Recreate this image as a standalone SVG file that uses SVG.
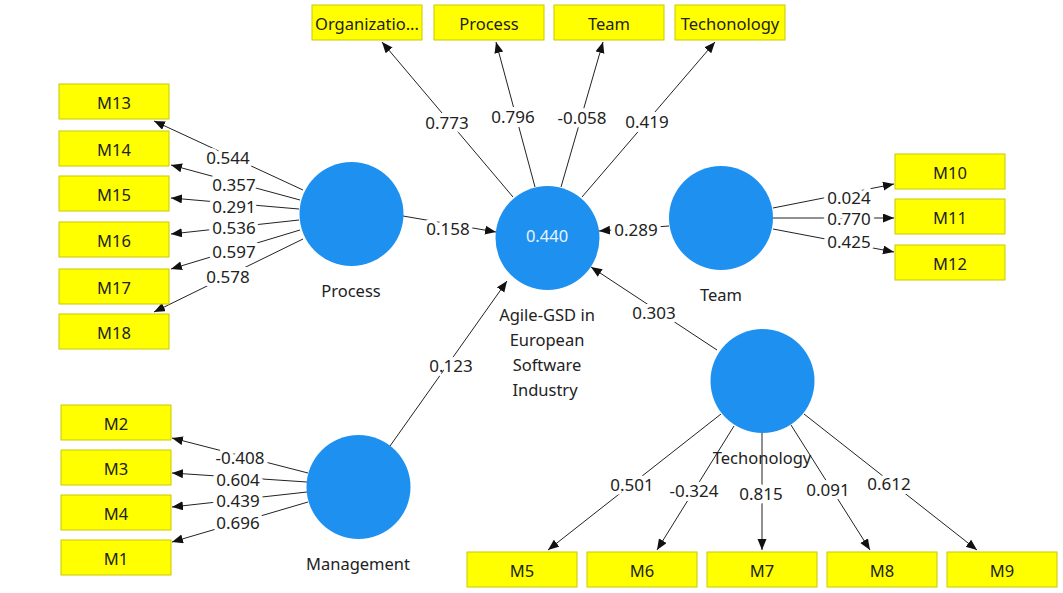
<svg xmlns="http://www.w3.org/2000/svg" width="1063" height="593" viewBox="0 0 1063 593">
<style>
.bx{fill:#FFFF00;stroke:#C9C900;stroke-width:1}
.bt{font-family:"Noto Sans","Open Sans",sans-serif;font-size:16.5px;fill:#222;text-anchor:middle;dominant-baseline:central}
.lv{fill:#1E90F0}
.lt{font-family:"Noto Sans","Open Sans",sans-serif;font-size:16.5px;fill:#222;text-anchor:middle;dominant-baseline:central}
.ln{stroke:#222;stroke-width:1;fill:none;marker-end:url(#ah)}
.el{font-family:"Noto Sans","Open Sans",sans-serif;font-size:17px;fill:#222;text-anchor:middle;dominant-baseline:central;stroke:#fff;stroke-width:8;stroke-linejoin:round;paint-order:stroke}
</style>
<defs>
<marker id="ah" markerUnits="userSpaceOnUse" markerWidth="12" markerHeight="10" refX="11" refY="4.5" orient="auto">
<path d="M0,0 L11,4.5 L0,9 z" fill="#111"/>
</marker>
</defs>
<rect width="1063" height="593" fill="#fff"/>

<g id="connectors">
<line class="ln" x1="303" y1="190" x2="154" y2="121"/>
<line class="ln" x1="300" y1="200" x2="171" y2="165"/>
<line class="ln" x1="299" y1="209" x2="171" y2="198"/>
<line class="ln" x1="299" y1="220" x2="171" y2="234"/>
<line class="ln" x1="300" y1="230" x2="171" y2="269"/>
<line class="ln" x1="303" y1="239" x2="154" y2="312"/>
<line class="ln" x1="513" y1="197" x2="382" y2="42"/>
<line class="ln" x1="535" y1="187" x2="496" y2="42"/>
<line class="ln" x1="561" y1="187" x2="603" y2="42"/>
<line class="ln" x1="582" y1="197" x2="715" y2="42"/>
<line class="ln" x1="403" y1="216" x2="496" y2="232"/>
<line class="ln" x1="669" y1="226" x2="599" y2="231"/>
<line class="ln" x1="717" y1="350" x2="591" y2="267"/>
<line class="ln" x1="390" y1="446" x2="507" y2="281"/>
<line class="ln" x1="773" y1="208" x2="894" y2="184"/>
<line class="ln" x1="773" y1="218" x2="894" y2="218"/>
<line class="ln" x1="773" y1="229" x2="894" y2="252"/>
<line class="ln" x1="308" y1="473" x2="172" y2="438"/>
<line class="ln" x1="307" y1="482" x2="172" y2="473"/>
<line class="ln" x1="307" y1="492" x2="172" y2="507"/>
<line class="ln" x1="308" y1="502" x2="172" y2="542"/>
<line class="ln" x1="721" y1="414" x2="548" y2="550"/>
<line class="ln" x1="734" y1="426" x2="657" y2="550"/>
<line class="ln" x1="762" y1="433" x2="762" y2="550"/>
<line class="ln" x1="791" y1="425" x2="870" y2="550"/>
<line class="ln" x1="804" y1="414" x2="977" y2="550"/>
</g>

<g id="edge-labels">
<text class="el" x="228" y="157">0.544</text>
<text class="el" x="234" y="184">0.357</text>
<text class="el" x="234" y="206">0.291</text>
<text class="el" x="234" y="227">0.536</text>
<text class="el" x="234" y="251">0.597</text>
<text class="el" x="228" y="276">0.578</text>
<text class="el" x="447" y="122">0.773</text>
<text class="el" x="513" y="116">0.796</text>
<text class="el" x="582" y="117">-0.058</text>
<text class="el" x="647" y="121">0.419</text>
<text class="el" x="448" y="228">0.158</text>
<text class="el" x="636" y="229">0.289</text>
<text class="el" x="654" y="312">0.303</text>
<text class="el" x="451" y="365">0.123</text>
<text class="el" x="849" y="197">0.024</text>
<text class="el" x="849" y="218">0.770</text>
<text class="el" x="849" y="241">0.425</text>
<text class="el" x="240" y="457">-0.408</text>
<text class="el" x="238" y="479">0.604</text>
<text class="el" x="238" y="500">0.439</text>
<text class="el" x="238" y="522">0.696</text>
<text class="el" x="632" y="484">0.501</text>
<text class="el" x="694" y="490">-0.324</text>
<text class="el" x="761" y="493">0.815</text>
<text class="el" x="828" y="489">0.091</text>
<text class="el" x="889" y="483">0.612</text>
</g>

<g id="Process">
<circle class="lv" cx="351.5" cy="214" r="52"/>
<text class="lt" x="351" y="290">Process</text>
</g>
<g id="Agile">
<circle class="lv" cx="547.5" cy="238" r="52"/>
<text class="lt" x="547" y="235" style="fill:#eaf4ff">0.440</text>
<text class="lt" x="547" y="314">Agile-GSD in</text>
<text class="lt" x="547" y="339">European</text>
<text class="lt" x="547" y="364">Software</text>
<text class="lt" x="545" y="389">Industry</text>
</g>
<g id="Team">
<circle class="lv" cx="721" cy="218" r="52"/>
<text class="lt" x="721" y="294">Team</text>
</g>
<g id="Techonology">
<circle class="lv" cx="762.5" cy="381" r="52"/>
</g>
<g id="Management">
<circle class="lv" cx="358.5" cy="487" r="52"/>
<text class="lt" x="358" y="563">Management</text>
</g>

<g id="ind-M13"><rect class="bx" x="59" y="84" width="110" height="35"/><text class="bt" x="114" y="102">M13</text></g>
<g id="ind-M14"><rect class="bx" x="59" y="131" width="110" height="35"/><text class="bt" x="114" y="149">M14</text></g>
<g id="ind-M15"><rect class="bx" x="59" y="176" width="110" height="35"/><text class="bt" x="114" y="194">M15</text></g>
<g id="ind-M16"><rect class="bx" x="59" y="222" width="110" height="35"/><text class="bt" x="114" y="240">M16</text></g>
<g id="ind-M17"><rect class="bx" x="59" y="269" width="110" height="35"/><text class="bt" x="114" y="287">M17</text></g>
<g id="ind-M18"><rect class="bx" x="59" y="314" width="110" height="35"/><text class="bt" x="114" y="332">M18</text></g>

<g id="ind-Org"><rect class="bx" x="312" y="5" width="110" height="35"/><text class="bt" x="367" y="23">Organizatio...</text></g>
<g id="ind-Process"><rect class="bx" x="434" y="5" width="110" height="35"/><text class="bt" x="489" y="23">Process</text></g>
<g id="ind-Team"><rect class="bx" x="554" y="5" width="110" height="35"/><text class="bt" x="609" y="23">Team</text></g>
<g id="ind-Tech"><rect class="bx" x="675" y="5" width="110" height="35"/><text class="bt" x="730" y="23">Techonology</text></g>

<g id="ind-M10"><rect class="bx" x="895" y="154" width="110" height="35"/><text class="bt" x="950" y="172">M10</text></g>
<g id="ind-M11"><rect class="bx" x="895" y="199" width="110" height="35"/><text class="bt" x="950" y="217">M11</text></g>
<g id="ind-M12"><rect class="bx" x="895" y="245" width="110" height="35"/><text class="bt" x="950" y="263">M12</text></g>

<g id="ind-M2"><rect class="bx" x="61" y="405" width="110" height="35"/><text class="bt" x="116" y="423">M2</text></g>
<g id="ind-M3"><rect class="bx" x="61" y="450" width="110" height="35"/><text class="bt" x="116" y="468">M3</text></g>
<g id="ind-M4"><rect class="bx" x="61" y="495" width="110" height="35"/><text class="bt" x="116" y="513">M4</text></g>
<g id="ind-M1"><rect class="bx" x="61" y="540" width="110" height="35"/><text class="bt" x="116" y="558">M1</text></g>

<g id="ind-M5"><rect class="bx" x="467" y="552" width="110" height="35"/><text class="bt" x="522" y="570">M5</text></g>
<g id="ind-M6"><rect class="bx" x="587" y="552" width="110" height="35"/><text class="bt" x="642" y="570">M6</text></g>
<g id="ind-M7"><rect class="bx" x="707" y="552" width="110" height="35"/><text class="bt" x="762" y="570">M7</text></g>
<g id="ind-M8"><rect class="bx" x="827" y="552" width="110" height="35"/><text class="bt" x="882" y="570">M8</text></g>
<g id="ind-M9"><rect class="bx" x="947" y="552" width="110" height="35"/><text class="bt" x="1002" y="570">M9</text></g>

<g id="Techonology-label">
<text class="lt" x="762" y="457">Techonology</text>
</g>
</svg>
